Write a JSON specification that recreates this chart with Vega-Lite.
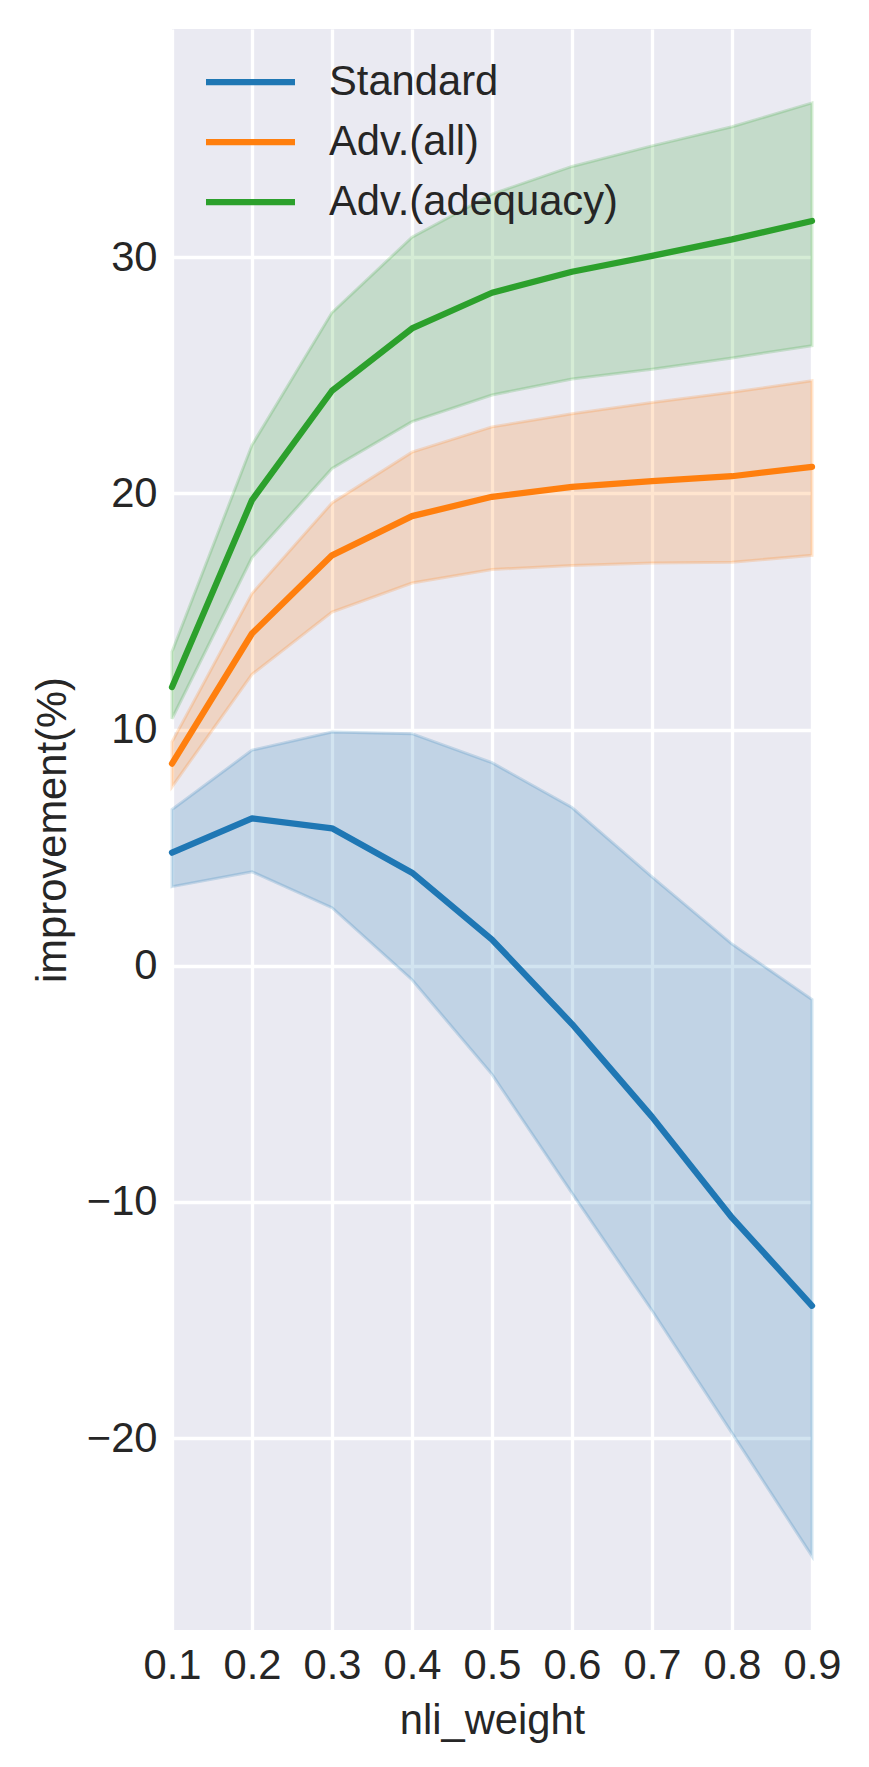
{
  "$schema": "https://vega.github.io/schema/vega-lite/v6.json",
  "autosize": {"type": "none"},
  "padding": {"left": 172, "top": 29, "right": 57, "bottom": 137},
  "width": 640,
  "height": 1601,
  "background": "#FFFFFF",
  "config": {
    "view": {"fill": "#EAEAF2", "stroke": null},
    "font": "Liberation Sans",
    "axis": {
      "domain": false,
      "ticks": false,
      "tickSize": 0,
      "grid": true,
      "gridColor": "#FFFFFF",
      "gridWidth": 3.3,
      "gridOpacity": 1,
      "labelFont": "Liberation Sans",
      "labelFontSize": 41.7,
      "labelColor": "#262626",
      "labelPadding": 15,
      "labelOverlap": false,
      "labelFlush": false,
      "labelBound": false,
      "titleFont": "Liberation Sans",
      "titleFontSize": 41.7,
      "titleFontWeight": "normal",
      "titleColor": "#262626"
    }
  },
  "data": {
    "values": [
      {"series": "Standard", "x": 0.1, "mean": 4.79, "lo": 3.35, "hi": 6.62},
      {"series": "Standard", "x": 0.2, "mean": 6.24, "lo": 3.98, "hi": 9.13},
      {"series": "Standard", "x": 0.3, "mean": 5.82, "lo": 2.46, "hi": 9.9},
      {"series": "Standard", "x": 0.4, "mean": 3.94, "lo": -0.59, "hi": 9.83},
      {"series": "Standard", "x": 0.5, "mean": 1.11, "lo": -4.6, "hi": 8.6},
      {"series": "Standard", "x": 0.6, "mean": -2.47, "lo": -9.63, "hi": 6.7},
      {"series": "Standard", "x": 0.7, "mean": -6.4, "lo": -14.6, "hi": 3.76},
      {"series": "Standard", "x": 0.8, "mean": -10.67, "lo": -19.79, "hi": 0.92},
      {"series": "Standard", "x": 0.9, "mean": -14.4, "lo": -25.0, "hi": -1.43},
      {"series": "Adv.(all)", "x": 0.1, "mean": 8.56, "lo": 7.58, "hi": 9.48},
      {"series": "Adv.(all)", "x": 0.2, "mean": 14.07, "lo": 12.34, "hi": 15.76},
      {"series": "Adv.(all)", "x": 0.3, "mean": 17.38, "lo": 14.98, "hi": 19.6},
      {"series": "Adv.(all)", "x": 0.4, "mean": 19.04, "lo": 16.21, "hi": 21.75},
      {"series": "Adv.(all)", "x": 0.5, "mean": 19.86, "lo": 16.78, "hi": 22.82},
      {"series": "Adv.(all)", "x": 0.6, "mean": 20.28, "lo": 16.95, "hi": 23.38},
      {"series": "Adv.(all)", "x": 0.7, "mean": 20.52, "lo": 17.06, "hi": 23.85},
      {"series": "Adv.(all)", "x": 0.8, "mean": 20.73, "lo": 17.09, "hi": 24.29},
      {"series": "Adv.(all)", "x": 0.9, "mean": 21.13, "lo": 17.38, "hi": 24.77},
      {"series": "Adv.(adequacy)", "x": 0.1, "mean": 11.8, "lo": 10.46, "hi": 13.3},
      {"series": "Adv.(adequacy)", "x": 0.2, "mean": 19.72, "lo": 17.29, "hi": 22.05},
      {"series": "Adv.(adequacy)", "x": 0.3, "mean": 24.35, "lo": 21.06, "hi": 27.66},
      {"series": "Adv.(adequacy)", "x": 0.4, "mean": 26.99, "lo": 23.04, "hi": 30.85},
      {"series": "Adv.(adequacy)", "x": 0.5, "mean": 28.5, "lo": 24.17, "hi": 32.68},
      {"series": "Adv.(adequacy)", "x": 0.6, "mean": 29.39, "lo": 24.85, "hi": 33.85},
      {"series": "Adv.(adequacy)", "x": 0.7, "mean": 30.06, "lo": 25.26, "hi": 34.72},
      {"series": "Adv.(adequacy)", "x": 0.8, "mean": 30.76, "lo": 25.74, "hi": 35.53},
      {"series": "Adv.(adequacy)", "x": 0.9, "mean": 31.54, "lo": 26.26, "hi": 36.54}
    ]
  },
  "encoding": {
    "x": {
      "field": "x",
      "type": "quantitative",
      "scale": {"domain": [0.1, 0.9], "nice": false, "zero": false},
      "axis": {
        "title": "nli_weight",
        "values": [0.1, 0.2, 0.3, 0.4, 0.5, 0.6, 0.7, 0.8, 0.9],
        "format": ".1f",
        "titlePadding": 14
      }
    }
  },
  "layer": [
    {
      "transform": [{"filter": "datum.series == 'Standard'"}],
      "mark": {"type": "area", "fill": "#1f77b4", "fillOpacity": 0.2, "stroke": "#1f77b4", "strokeOpacity": 0.2, "strokeWidth": 3},
      "encoding": {
        "y": {
          "field": "lo",
          "type": "quantitative",
          "scale": {"domain": [-28.13, 39.67], "nice": false, "zero": false},
          "axis": {
            "title": "improvement(%)",
            "values": [-20, -10, 0, 10, 20, 30],
            "titlePadding": 12
          }
        },
        "y2": {"field": "hi"}
      }
    },
    {
      "transform": [{"filter": "datum.series == 'Adv.(all)'"}],
      "mark": {"type": "area", "fill": "#ff7f0e", "fillOpacity": 0.2, "stroke": "#ff7f0e", "strokeOpacity": 0.2, "strokeWidth": 3},
      "encoding": {
        "y": {"field": "lo", "type": "quantitative"},
        "y2": {"field": "hi"}
      }
    },
    {
      "transform": [{"filter": "datum.series == 'Adv.(adequacy)'"}],
      "mark": {"type": "area", "fill": "#2ca02c", "fillOpacity": 0.2, "stroke": "#2ca02c", "strokeOpacity": 0.2, "strokeWidth": 3},
      "encoding": {
        "y": {"field": "lo", "type": "quantitative"},
        "y2": {"field": "hi"}
      }
    },
    {
      "mark": {"type": "line", "strokeWidth": 6.25, "strokeCap": "round", "strokeJoin": "round"},
      "encoding": {
        "y": {"field": "mean", "type": "quantitative"},
        "stroke": {
          "field": "series",
          "type": "nominal",
          "scale": {
            "domain": ["Standard", "Adv.(all)", "Adv.(adequacy)"],
            "range": ["#1f77b4", "#ff7f0e", "#2ca02c"]
          },
          "legend": {
            "orient": "none",
            "legendX": 30.5,
            "legendY": 23,
            "title": null,
            "padding": 0,
            "symbolType": "stroke",
            "symbolSize": 7921,
            "symbolStrokeWidth": 6.25,
            "symbolOpacity": 1,
            "labelFont": "Liberation Sans",
            "labelFontSize": 41.7,
            "labelColor": "#262626",
            "labelOffset": 30.5,
            "labelLimit": 600,
            "clipHeight": 60,
            "rowPadding": 0
          }
        }
      }
    }
  ]
}
